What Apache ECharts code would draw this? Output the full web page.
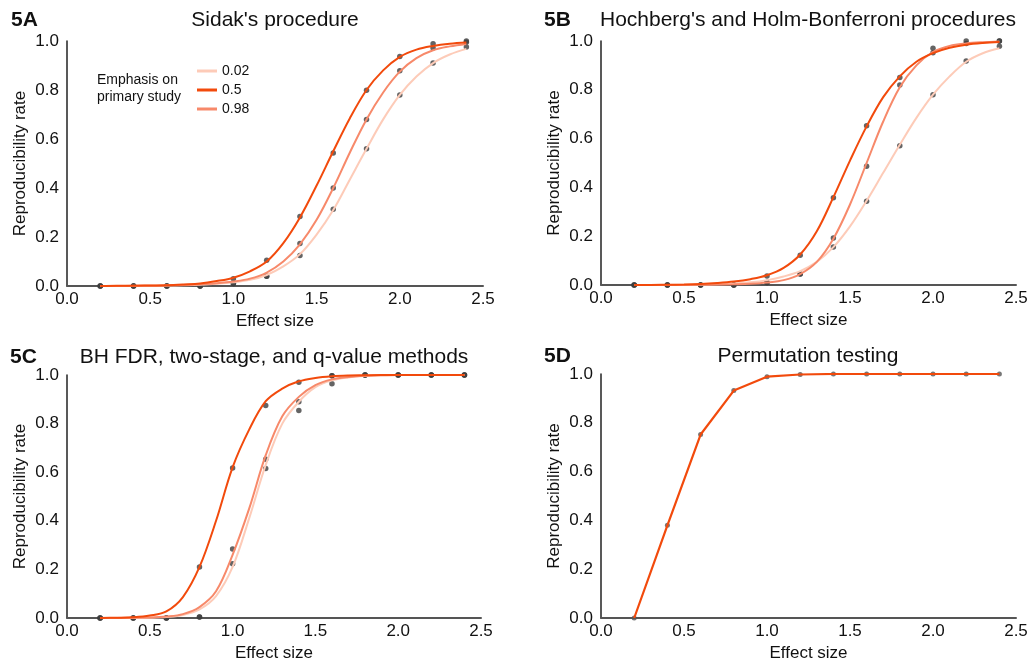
<!DOCTYPE html>
<html>
<head>
<meta charset="utf-8">
<script src="https://cdn.jsdelivr.net/npm/echarts@6/dist/echarts.min.js"></script>
<style>
html,body{margin:0;padding:0;background:#fff;}
#chart{width:1034px;height:668px;}
</style>
</head>
<body>
<div id="chart"></div>
<script>
// ---------- DATA ----------
const xDots  = [0.2,0.4,0.6,0.8,1.0,1.2,1.4,1.6,1.8,2.0,2.2,2.4];
const xCurve = [0.2,0.3,0.4,0.5,0.6,0.7,0.8,0.9,1.0,1.1,1.2,1.3,1.4,1.5,1.6,1.7,1.8,1.9,2.0,2.1,2.2,2.3,2.4];
const emphasisNames = ['0.02','0.5','0.98'];
const panelLabels = ['5A','5B','5C','5D'];
const panelTitles = ["Sidak's procedure","Hochberg's and Holm-Bonferroni procedures","BH FDR, two-stage, and q-value methods","Permutation testing"];
const xTicks = ['0.0','0.5','1.0','1.5','2.0','2.5'];
const yTicks = ['0.0','0.2','0.4','0.6','0.8','1.0'];

// Panel A (Sidak)
const dotsA_002 = [0,0,0,0,0.01,0.04,0.125,0.313,0.56,0.78,0.91,0.976];
const dotsA_05  = [0,0,0,0,0.03,0.105,0.284,0.543,0.799,0.937,0.989,1.0];
const dotsA_098 = [0,0,0,0,0.01,0.04,0.173,0.40,0.68,0.879,0.971,0.995];
const fitA_002 = [0,0,0,0.001,0.002,0.003,0.005,0.009,0.015,0.025,0.045,0.08,0.13,0.21,0.31,0.435,0.56,0.68,0.78,0.855,0.91,0.945,0.968];
const fitA_05  = [0,0.001,0.001,0.002,0.003,0.006,0.01,0.02,0.034,0.06,0.10,0.175,0.28,0.41,0.55,0.685,0.80,0.88,0.935,0.965,0.98,0.989,0.994];
const fitA_098 = [0,0,0.001,0.001,0.002,0.004,0.007,0.011,0.018,0.03,0.055,0.10,0.17,0.27,0.40,0.545,0.68,0.79,0.875,0.93,0.962,0.978,0.988];

// Panel B (Hochberg / Holm-Bonferroni)
const dotsB_002 = [0,0,0,0,0.01,0.045,0.156,0.343,0.571,0.78,0.918,0.978];
const dotsB_05  = [0,0,0,0,0.037,0.122,0.358,0.653,0.85,0.97,0.99,1.0];
const dotsB_098 = [0,0,0,0,0.01,0.045,0.193,0.487,0.82,0.952,1.0,1.0];
const fitB_002 = [0,0,0,0.001,0.002,0.003,0.006,0.011,0.02,0.035,0.057,0.095,0.155,0.24,0.345,0.46,0.575,0.685,0.78,0.855,0.915,0.95,0.97];
const fitB_05  = [0,0,0.001,0.002,0.004,0.008,0.014,0.024,0.04,0.07,0.125,0.22,0.36,0.51,0.65,0.77,0.855,0.915,0.95,0.972,0.985,0.992,0.996];
const fitB_098 = [0,0,0,0,0.001,0.002,0.003,0.005,0.01,0.02,0.045,0.095,0.19,0.33,0.50,0.67,0.81,0.90,0.955,0.98,0.99,0.995,0.998];

// Panel C (BH FDR, two-stage, q-value)
const dotsC_002 = [0,0,0,0.004,0.223,0.615,0.854,0.964,1,1,1,1];
const dotsC_05  = [0,0,0,0.21,0.617,0.874,0.97,0.997,1,1,1,1];
const dotsC_098 = [0,0,0,0.004,0.284,0.653,0.89,0.997,1,1,1,1];
const fitC_002 = [0,0,0,0.001,0.004,0.012,0.035,0.09,0.21,0.41,0.63,0.80,0.89,0.95,0.978,0.99,0.996,0.999,1,1,1,1,1];
const fitC_05  = [0,0.001,0.003,0.01,0.027,0.086,0.21,0.40,0.62,0.775,0.892,0.944,0.974,0.988,0.995,0.998,0.999,1,1,1,1,1,1];
const fitC_098 = [0,0,0.001,0.002,0.006,0.016,0.045,0.11,0.26,0.45,0.67,0.83,0.91,0.958,0.982,0.992,0.997,0.999,1,1,1,1,1];

// Panel D (Permutation testing)
const dotsD = [0,0.38,0.752,0.932,0.989,0.998,1,1,1,1,1,1];

// ---------- STYLE ----------
const FONT = "'Liberation Sans', Arial, sans-serif";
const colors = {'0.02':'#fdcbb8','0.5':'#f24a0c','0.98':'#f7896a'};
const zOrder = {'0.02':3,'0.5':5,'0.98':4};
const grids = [
  {left:67, top:41, width:416, height:245},
  {left:601, top:41, width:415, height:244},
  {left:67, top:375, width:414, height:243},
  {left:601, top:374, width:415, height:244}
];
const pair = (xs, ys) => xs.map((x,i)=>[x, ys[i]]);

const xAxes = grids.map((g,i)=>({
  gridIndex:i, type:'value', min:0, max:2.5, interval:0.5,
  name:'Effect size', nameLocation:'middle', nameGap:27,
  nameTextStyle:{fontFamily:FONT, fontSize:17, color:'#111'},
  axisLine:{show:true, onZero:false, lineStyle:{color:'#555', width:2}},
  axisTick:{show:false}, splitLine:{show:false},
  axisLabel:{fontFamily:FONT, fontSize:17, color:'#111', margin:5,
    formatter:(v)=>xTicks[Math.round(v/0.5)]}
}));
const yAxes = grids.map((g,i)=>({
  gridIndex:i, type:'value', min:0, max:1, interval:0.2,
  name:'Reproducibility rate', nameLocation:'middle', nameGap:38,
  nameTextStyle:{fontFamily:FONT, fontSize:17, color:'#111'},
  axisLine:{show:true, onZero:false, lineStyle:{color:'#222', width:1.5}},
  axisTick:{show:false}, splitLine:{show:false},
  axisLabel:{fontFamily:FONT, fontSize:17, color:'#111', margin:8,
    formatter:(v)=>yTicks[Math.round(v/0.2)]}
}));

const series = [];
function addPanel(idx, fits, dots){
  emphasisNames.forEach((nm,k)=>{
    series.push({
      type:'scatter', name:'pts'+idx+nm, xAxisIndex:idx, yAxisIndex:idx,
      data: pair(xDots, dots[k]), symbol:'circle', symbolSize:5.5,
      itemStyle:{color:'#3d3d3d'}, z:2, silent:true
    });
  });
  emphasisNames.forEach((nm,k)=>{
    series.push({
      type:'line', name:nm, xAxisIndex:idx, yAxisIndex:idx,
      data: pair(xCurve, fits[k]), smooth:0.35,
      showSymbol:false, symbol:'none',
      lineStyle:{color:colors[nm], width:2}, itemStyle:{color:colors[nm]},
      z:zOrder[nm], silent:true
    });
  });
}
addPanel(0, [fitA_002, fitA_05, fitA_098], [dotsA_002, dotsA_05, dotsA_098]);
addPanel(1, [fitB_002, fitB_05, fitB_098], [dotsB_002, dotsB_05, dotsB_098]);
addPanel(2, [fitC_002, fitC_05, fitC_098], [dotsC_002, dotsC_05, dotsC_098]);
// Panel D
series.push({
  type:'scatter', name:'ptsD', xAxisIndex:3, yAxisIndex:3,
  data: pair(xDots, dotsD), symbol:'circle', symbolSize:5,
  itemStyle:{color:'#555'}, z:2, silent:true
});
series.push({
  type:'line', name:'0.5', xAxisIndex:3, yAxisIndex:3,
  data: pair(xDots, dotsD), showSymbol:false, symbol:'none',
  lineStyle:{color:colors['0.5'], width:2.2}, itemStyle:{color:colors['0.5']},
  z:5, silent:true
});

const titlePos = [[275,20],[808,20],[274,357],[808,356]];
const labelPos = [[11,20],[544,20],[10,357],[544,356]];
const graphics = [];
panelTitles.forEach((t,i)=>{
  graphics.push({type:'text', x:titlePos[i][0], y:titlePos[i][1],
    style:{text:t, fill:'#111', font:'21px '+FONT, align:'center', verticalAlign:'middle', textAlign:'center', textVerticalAlign:'middle'}});
});
panelLabels.forEach((t,i)=>{
  graphics.push({type:'text', x:labelPos[i][0], y:labelPos[i][1],
    style:{text:t, fill:'#111', font:'bold 21px '+FONT, align:'left', verticalAlign:'middle', textVerticalAlign:'middle'}});
});
graphics.push({type:'text', x:97, y:71,
  style:{text:'Emphasis on\nprimary study', fill:'#111', font:'14px '+FONT, lineHeight:17.5}});

const chart = echarts.init(document.getElementById('chart'), null, {renderer:'canvas'});
chart.setOption({
  animation:false,
  backgroundColor:'#fff',
  grid: grids.map(g=>Object.assign({containLabel:false, outerBoundsMode:'none'}, g)),
  xAxis: xAxes,
  yAxis: yAxes,
  legend:{
    data: emphasisNames, orient:'vertical', left:192, top:59,
    icon:'rect', itemWidth:20, itemHeight:3, itemGap:5,
    textStyle:{fontFamily:FONT, fontSize:14, color:'#111'},
    selectedMode:false
  },
  graphic: graphics,
  series: series
});
</script>
</body>
</html>
